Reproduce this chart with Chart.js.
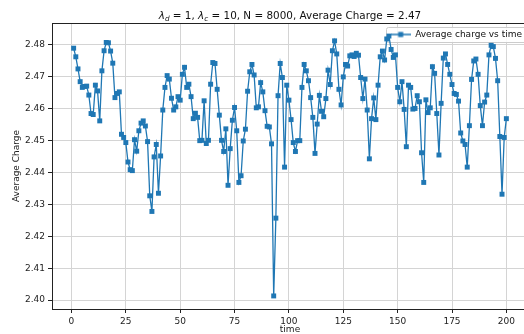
<!DOCTYPE html>
<html>
<head>
<meta charset="utf-8">
<script src="https://cdn.jsdelivr.net/npm/chart.js@4"></script>
<style>
  html, body { margin: 0; padding: 0; overflow: hidden; background: #fff; }
  #wrap { width: 540px; height: 340px; }
</style>
</head>
<body>
<div id="wrap"><canvas id="myChart" width="540" height="340"></canvas></div>
<script>
// average charge per time step (time = 1 .. 200)
var startTime = 1;
var charge = [
  2.4790, 2.4763, 2.4725, 2.4685, 2.4667, 2.4670, 2.4671, 2.4643, 2.4585, 2.4582,
  2.4674, 2.4656, 2.4562, 2.4719, 2.4782, 2.4808, 2.4807, 2.4781, 2.4743, 2.4635,
  2.4648, 2.4653, 2.4520, 2.4510, 2.4494, 2.4433, 2.4409, 2.4406, 2.4503, 2.4467,
  2.4531, 2.4555, 2.4562, 2.4546, 2.4497, 2.4327, 2.4278, 2.4449, 2.4488, 2.4335,
  2.4452, 2.4596, 2.4667, 2.4704, 2.4693, 2.4633, 2.4596, 2.4606, 2.4638, 2.4627,
  2.4708, 2.4730, 2.4667, 2.4677, 2.4638, 2.4569, 2.4586, 2.4573, 2.4500, 2.4501,
  2.4625, 2.4491, 2.4501, 2.4677, 2.4745, 2.4742, 2.4661, 2.4580, 2.4501, 2.4466,
  2.4537, 2.4360, 2.4475, 2.4564, 2.4604, 2.4531, 2.4369, 2.4390, 2.4499, 2.4536,
  2.4655, 2.4716, 2.4739, 2.4706, 2.4603, 2.4606, 2.4682, 2.4653, 2.4594, 2.4545,
  2.4543, 2.4490, 2.4013, 2.4257, 2.4641, 2.4742, 2.4698, 2.4417, 2.4674, 2.4627,
  2.4566, 2.4494, 2.4466, 2.4500, 2.4500, 2.4667, 2.4739, 2.4719, 2.4688, 2.4635,
  2.4573, 2.4460, 2.4552, 2.4642, 2.4592, 2.4575, 2.4632, 2.4721, 2.4676, 2.4782,
  2.4813, 2.4772, 2.4661, 2.4612, 2.4700, 2.4739, 2.4734, 2.4766, 2.4769, 2.4764,
  2.4774, 2.4768, 2.4698, 2.4632, 2.4693, 2.4596, 2.4443, 2.4569, 2.4634, 2.4566,
  2.4674, 2.4763, 2.4781, 2.4753, 2.4819, 2.4828, 2.4786, 2.4761, 2.4769, 2.4667,
  2.4622, 2.4685, 2.4598, 2.4481, 2.4674, 2.4667, 2.4599, 2.4601, 2.4641, 2.4622,
  2.4462, 2.4369, 2.4628, 2.4588, 2.4603, 2.4732, 2.4711, 2.4585, 2.4455, 2.4617,
  2.4759, 2.4772, 2.4739, 2.4708, 2.4676, 2.4648, 2.4645, 2.4624, 2.4524, 2.4499,
  2.4488, 2.4417, 2.4547, 2.4692, 2.4750, 2.4756, 2.4708, 2.4610, 2.4547, 2.4621,
  2.4643, 2.4769, 2.4799, 2.4795, 2.4758, 2.4688, 2.4513, 2.4332, 2.4510, 2.4569
];
var xTicks = [0, 25, 50, 75, 100, 125, 150, 175, 200];
var yTicks = [2.40, 2.41, 2.42, 2.43, 2.44, 2.45, 2.46, 2.47, 2.48];

var blue = '#1f77b4';
var font = 'DejaVu Sans';
var legendPad = 7;

// legend handle: short line with a square marker, like matplotlib
var handle = document.createElement('canvas');
handle.width = 20; handle.height = 8;
var hc = handle.getContext('2d');
hc.strokeStyle = blue; hc.lineWidth = 1.4;
hc.beginPath(); hc.moveTo(0, 4); hc.lineTo(20, 4); hc.stroke();
hc.fillStyle = blue; hc.fillRect(7.5, 1.5, 5, 5);

var points = charge.map(function(v, i) { return {x: startTime + i, y: v}; });

var framePlugin = {
  id: 'frame',
  afterLayout: function(chart) {
    // push the legend to the upper right corner of the axes
    var lg = chart.legend, hb = lg.legendHitBoxes[0];
    if (!hb) return;
    lg.left = 522 - hb.width - legendPad;
    lg.top = chart.chartArea.top;
  },
  beforeDatasetsDraw: function(chart) {
    // legend box (white, light grey edge) over the grid, then legend again on top
    var lg = chart.legend, hb = lg.legendHitBoxes[0];
    if (!hb) return;
    var c = chart.ctx;
    c.save();
    c.fillStyle = 'rgba(255,255,255,0.85)';
    c.strokeStyle = '#cccccc';
    c.lineWidth = 1;
    var l = Math.round(lg.left + legendPad - 5) + 0.5, t = Math.round(lg.top + legendPad - 3) + 0.5;
    c.beginPath();
    c.roundRect(l, t, hb.width + 30, hb.height + 6, 2);
    c.fill(); c.stroke();
    c.restore();
    lg.draw();
  },
  afterDraw: function(chart) {
    var c = chart.ctx, a = chart.chartArea;
    c.save();
    c.strokeStyle = '#222';
    c.lineWidth = 1;
    c.strokeRect(Math.round(a.left) + 0.5, Math.round(a.top) + 0.5,
                 Math.round(a.right - a.left), Math.round(a.bottom - a.top));
    // title with subscripts
    var parts = [
      {t: 'λ', it: true}, {t: 'd', it: true, sub: true}, {t: ' = 1, '},
      {t: 'λ', it: true}, {t: 'c', it: true, sub: true},
      {t: ' = 10, N = 8000, Average Charge = 2.47'}
    ];
    var size = 10.4, base = 18.5, w = 0;
    function fnt(p) {
      return (p.it ? 'italic ' : '') + (p.sub ? size * 0.7 : size) + 'px "' + font + '"';
    }
    parts.forEach(function(p) { c.font = fnt(p); w += c.measureText(p.t).width; });
    var x = (a.left + a.right) / 2 - w / 2;
    c.fillStyle = '#111';
    c.textBaseline = 'alphabetic';
    parts.forEach(function(p) {
      c.font = fnt(p);
      c.fillText(p.t, x, p.sub ? base + 2.2 : base);
      x += c.measureText(p.t).width;
    });
    c.restore();
  }
};

var ctx = document.getElementById('myChart');
var myChart = new Chart(ctx, {
  type: 'line',
  data: {
    datasets: [{
      label: 'Average charge vs time',
      data: points,
      borderColor: blue,
      backgroundColor: blue,
      borderWidth: 1.3,
      pointStyle: 'rect',
      pointRadius: 3.5,
      pointBorderWidth: 0,
      pointHoverRadius: 3.5,
      tension: 0,
      fill: false
    }]
  },
  options: {
    responsive: false,
    animation: false,
    events: [],
    layout: { padding: { left: 0, top: 23, right: 12, bottom: 0 } },
    plugins: {
      title: { display: false },
      tooltip: { enabled: false },
      legend: {
        position: 'chartArea',
        align: 'start',
        labels: {
          usePointStyle: true,
          pointStyle: handle,
          pointStyleWidth: 20,
          padding: legendPad,
          color: '#222',
          font: { family: font, size: 9 }
        }
      }
    },
    scales: {
      x: {
        type: 'linear',
        min: -8.95,
        max: 209.95,
        afterBuildTicks: function(s) { s.ticks = xTicks.map(function(v) { return {value: v}; }); },
        afterFit: function(s) { s.height = 31; },
        grid: { color: '#d4d4d4', lineWidth: 1, tickLength: 4, tickColor: '#222' },
        border: { display: false },
        ticks: { color: '#222', padding: 3, maxRotation: 0, font: { family: font, size: 9 } },
        title: { display: true, text: 'time', color: '#222', padding: { top: 0, bottom: 4.6 }, font: { family: font, size: 9 } }
      },
      y: {
        min: 2.3972,
        max: 2.4869,
        afterBuildTicks: function(s) { s.ticks = yTicks.map(function(v) { return {value: v}; }); },
        afterFit: function(s) { s.width = 52; },
        grid: { color: '#d4d4d4', lineWidth: 1, tickLength: 4, tickColor: '#222' },
        border: { display: false },
        ticks: {
          color: '#222', padding: 3,
          font: { family: font, size: 9 },
          callback: function(v) { return v.toFixed(2); }
        },
        title: { display: true, text: 'Average Charge', color: '#222', padding: { top: 11, bottom: 0 }, font: { family: font, size: 9 } }
      }
    }
  },
  plugins: [framePlugin]
});
</script>
</body>
</html>
